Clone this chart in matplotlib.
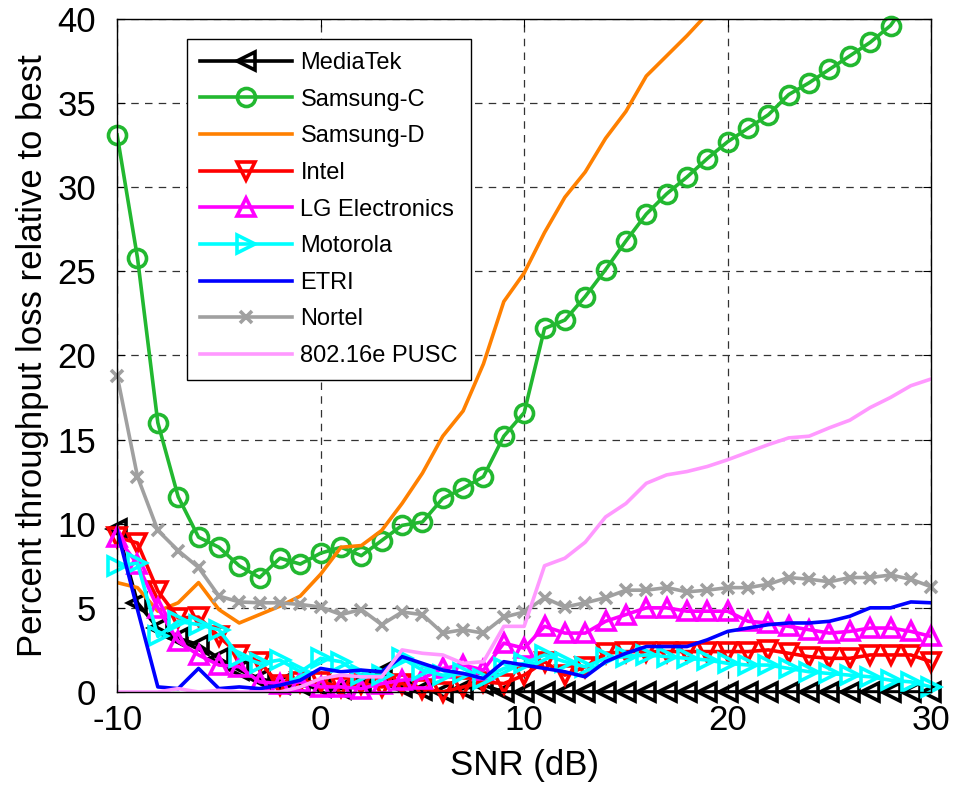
import matplotlib
matplotlib.use('Agg')
import matplotlib.pyplot as plt
from matplotlib.lines import Line2D

plt.rcParams['font.family'] = ['Liberation Sans', 'DejaVu Sans']
plt.rcParams['axes.unicode_minus'] = False

snr = list(range(-10, 31))

mediatek = [9.7, 5.3, 3.8, 3.2, 2.8, 2.0, 1.3, 0.8, 0.5, 0.4, 0.3,
            0.2, 0.6, 1.2, 0.3, 0.1, 0.0, 0.2, 0.4, 0.0, 0.0,
            0.0, 0.0, 0.0, 0.0, 0.0, 0.0, 0.0, 0.0, 0.0, 0.0,
            0.0, 0.0, 0.0, 0.0, 0.0, 0.0, 0.0, 0.0, 0.0, 0.0]
samsung_c = [33.1, 25.8, 16.0, 11.6, 9.2, 8.6, 7.5, 6.8, 7.95, 7.6, 8.25,
             8.6, 8.1, 9.0, 9.9, 10.1, 11.5, 12.1, 12.8, 15.2, 16.6,
             21.6, 22.1, 23.5, 25.1, 26.8, 28.4, 29.6, 30.6, 31.7, 32.7,
             33.5, 34.3, 35.5, 36.2, 37.0, 37.8, 38.6, 39.6, 41.3, 42.1]
samsung_d = [6.5, 6.2, 4.8, 5.3, 6.5, 4.9, 4.1, 4.6, 5.1, 5.7, 7.0,
             8.6, 8.7, 9.6, 11.2, 13.0, 15.2, 16.7, 19.5, 23.2, 24.9,
             27.3, 29.4, 30.9, 32.9, 34.5, 36.6, 37.8, 39.0, 40.3, 41.6,
             42.8, 44.0, 45.1, 46.3, 47.4, 48.6, 49.7, 50.9, 52.0, 53.1]
intel = [9.2, 8.85, 6.0, 4.4, 4.45, 3.3, 2.2, 1.8, 0.4, 0.6, 0.6,
         0.3, 0.5, 0.3, 0.5, 0.2, 0.0, 0.3, 0.6, 0.5, 1.0,
         1.8, 1.0, 1.5, 2.3, 2.4, 2.4, 2.4, 2.4, 2.4, 2.4,
         2.4, 2.5, 2.3, 2.1, 2.0, 2.0, 2.2, 2.2, 2.2, 1.8]
lg = [9.2, 7.6, 5.0, 3.0, 2.2, 1.6, 1.5, 0.6, 0.5, 0.6, 0.3,
      0.3, 0.2, 0.5, 0.7, 0.8, 1.4, 1.6, 1.3, 2.9, 2.6,
      3.9, 3.5, 3.5, 4.2, 4.6, 5.0, 5.0, 4.8, 4.8, 4.8,
      4.2, 4.1, 3.9, 3.7, 3.5, 3.6, 3.8, 3.8, 3.6, 3.3]
motorola = [7.5, 7.65, 3.3, 4.2, 4.0, 3.7, 2.1, 1.7, 1.9, 1.2, 2.0,
            1.8, 1.0, 1.0, 2.0, 1.3, 1.0, 1.1, 0.8, 1.4, 1.7,
            2.2, 1.8, 1.5, 2.0, 2.1, 2.2, 2.1, 2.0, 1.9, 1.7,
            1.6, 1.6, 1.4, 1.2, 1.1, 1.0, 0.9, 0.7, 0.6, 0.3]
etri = [9.6, 4.9, 0.3, 0.2, 1.4, 0.2, 0.3, 0.2, 0.4, 0.7, 1.4,
        1.2, 1.3, 1.2, 2.1, 1.7, 1.3, 1.1, 0.8, 1.8, 1.6,
        1.4, 1.2, 0.9, 1.8, 2.3, 2.7, 2.7, 2.7, 3.1, 3.6,
        3.8, 4.0, 4.1, 4.1, 4.2, 4.5, 5.0, 5.0, 5.35, 5.3]
nortel = [18.8, 12.8, 9.6, 8.4, 7.4, 5.7, 5.35, 5.3, 5.3, 5.2, 5.05,
          4.6, 4.9, 4.0, 4.75, 4.6, 3.5, 3.7, 3.5, 4.45, 4.75,
          5.6, 5.05, 5.3, 5.6, 6.05, 6.05, 6.2, 5.95, 6.05, 6.2,
          6.2, 6.4, 6.8, 6.7, 6.55, 6.8, 6.8, 6.95, 6.7, 6.25]
pusc = [0.0, 0.0, 0.0, 0.2, 0.0, 0.1, 0.0, 0.0, 0.0, 0.3, 0.8,
        1.0, 0.9, 0.9, 2.5, 2.3, 2.2, 1.7, 1.8, 3.9, 3.9,
        7.5, 7.95, 8.9, 10.4, 11.2, 12.4, 12.9, 13.1, 13.4, 13.8,
        14.25, 14.7, 15.1, 15.2, 15.7, 16.15, 16.9, 17.5, 18.2, 18.6]

series = [
    ('MediaTek', mediatek, '#000000', '<'),
    ('Samsung-C', samsung_c, '#22B830', 'o'),
    ('Samsung-D', samsung_d, '#FF8000', None),
    ('Intel', intel, '#FF0000', 'v'),
    ('LG Electronics', lg, '#FF00FF', '^'),
    ('Motorola', motorola, '#00FFFF', '>'),
    ('ETRI', etri, '#0000FF', None),
    ('Nortel', nortel, '#A0A0A0', 'x'),
    ('802.16e PUSC', pusc, '#FF99FF', None),
]

YMAX = 40

fig = plt.figure(figsize=(9.68, 7.85), dpi=100)
ax = fig.add_axes([0.121, 0.1185, 0.841, 0.8575])

handles = []
for name, vals, col, mk in series:
    ms = 8.5 if mk == 'x' else 13
    ax.plot(snr, vals, color=col, lw=2.6)
    if mk is not None:
        # markers are not clipped at the axes edge (MATLAB look)
        shown = [v if v <= YMAX else None for v in vals]
        ax.plot(snr, shown, ls='none', marker=mk, ms=ms, mfc='none',
                mec=col, mew=2.6, clip_on=False)
    handles.append(Line2D([], [], color=col, lw=2.6, marker=mk, ms=ms,
                          mfc='none', mec=col, mew=2.6, label=name))

ax.set_xlim(-10, 30)
ax.set_ylim(0, YMAX)
ax.set_xticks([-10, 0, 10, 20, 30])
ax.set_yticks(range(0, 41, 5))
ax.grid(True, color='#333333', linestyle=(0, (6, 5)), lw=0.9)
ax.set_axisbelow(True)
ax.tick_params(direction='in', top=True, right=True, labelsize=25, length=6)
ax.tick_params(axis='y', pad=15)
ax.tick_params(axis='x', pad=9)
for sp in ax.spines.values():
    sp.set_linewidth(1.0)

ax.set_xlabel('SNR (dB)', fontsize=25, labelpad=8)
ax.set_ylabel('Percent throughput loss relative to best', fontsize=25, labelpad=6)

leg = ax.legend(handles=handles, loc='upper left', bbox_to_anchor=(0.086, 0.97),
                borderaxespad=0, fontsize=17, handlelength=3.9, handletextpad=0.35,
                labelspacing=0.62, borderpad=0.55, fancybox=False, framealpha=1,
                edgecolor='black')
leg.get_frame().set_linewidth(1.0)

fig.savefig('out.png', dpi=100)
